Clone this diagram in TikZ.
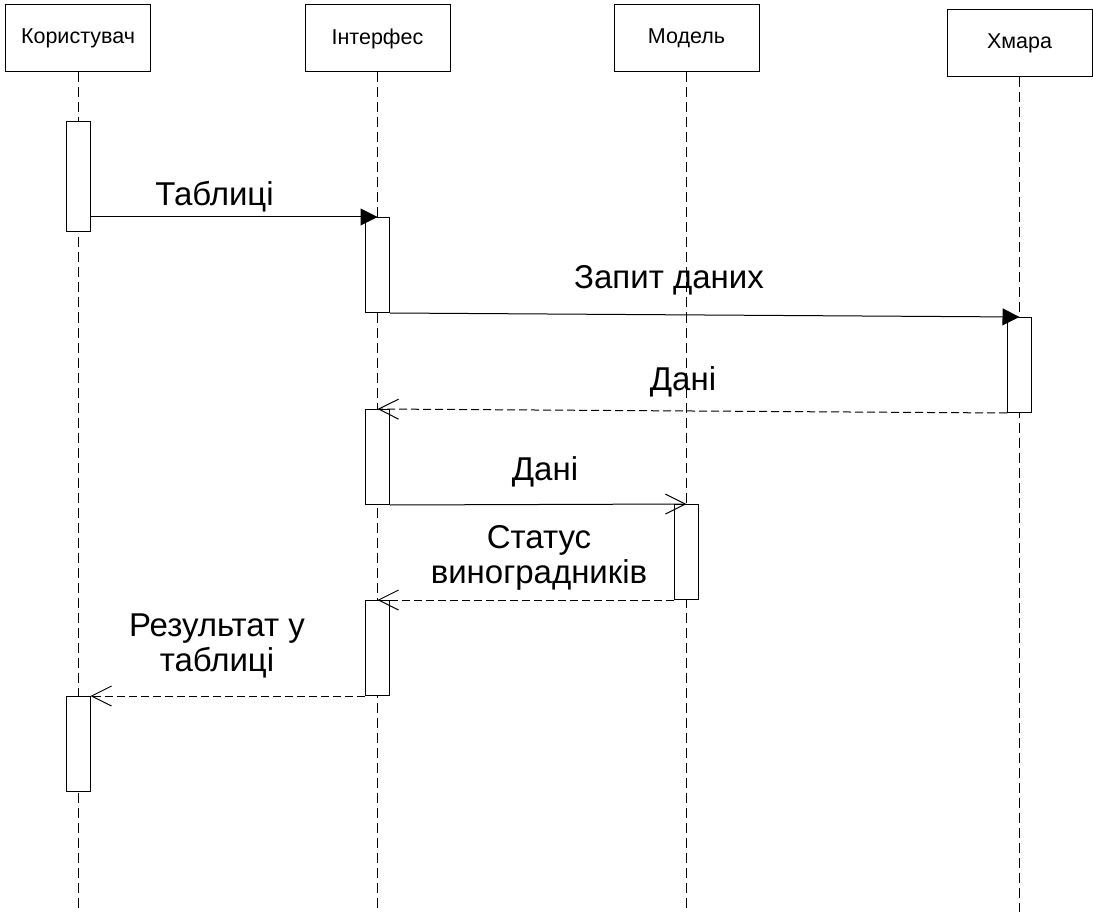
\documentclass[tikz,border=0pt]{standalone}
\usepackage{fontspec}
\setmainfont{Liberation Sans}
\usetikzlibrary{arrows.meta}
\begin{document}
\begin{tikzpicture}[x=1pt,y=-1pt,line width=1pt,
  actor/.style={draw,minimum width=145pt,minimum height=67pt,inner sep=0pt,font=\fontsize{21.5}{25}\selectfont},
  bar/.style={draw,fill=white,minimum width=24pt,minimum height=95pt,inner sep=0pt,anchor=north},
  lifeline/.style={dash pattern=on 10pt off 5pt},
  msg/.style={font=\fontsize{33}{35}\selectfont,align=center,inner sep=0pt},
  call/.style={-{Triangle[length=17pt,width=17pt]}},
  send/.style={-{Straight Barb[length=20pt,width=20pt]}},
  reply/.style={dash pattern=on 8pt off 4pt,-{Straight Barb[length=20pt,width=20pt]}}]
\useasboundingbox (0,0) rectangle (1093,912);

\node[actor] (user) at (78,38.5) {Користувач};
\node[actor] (ui) at (377.5,38.5) {Інтерфес};
\node[actor] (model) at (686.5,38.5) {Модель};
\node[actor] (cloud) at (1019.5,43.5) {Хмара};

\coordinate (bottom) at (0,912);
\draw[lifeline] (user.south) -- (user.south |- bottom);
\draw[lifeline] (ui.south) -- (ui.south |- bottom);
\draw[lifeline] (model.south) -- (model.south |- bottom);
\draw[lifeline] (cloud.south) -- (cloud.south |- bottom);

\node[bar,minimum height=110pt] (u1) at (78,121) {};
\node[bar] (i1) at (377.5,217) {};
\node[bar] (c1) at (1019.5,317) {};
\node[bar] (i2) at (377.5,409) {};
\node[bar] (m1) at (686.5,504) {};
\node[bar] (i3) at (377.5,600) {};
\node[bar] (u2) at (78,696) {};

\draw[call] (u1.east |- i1.north) -- (i1.north);
\draw[call] (i1.south east) -- (c1.north);
\draw[reply] (c1.south west) -- (i2.north);
\draw[send] (i2.south east) -- (m1.north);
\draw[reply] (m1.south west) -- (i3.north);
\draw[reply] (i3.south west) -- (u2.north east);

\node[msg,anchor=base] (tab) at (214.5,206) {Таблиці};
\node[msg,anchor=base] (req) at (669,289) {Запит даних};
\node[msg,anchor=base] (data1) at (683,390) {Дані};
\node[msg,anchor=base] (data2) at (545,480) {Дані};
\node[msg] (status) at (539,558) {Статус\\виноградників};
\node[msg] (result) at (217,646) {Результат у\\таблиці};
\end{tikzpicture}
\end{document}
